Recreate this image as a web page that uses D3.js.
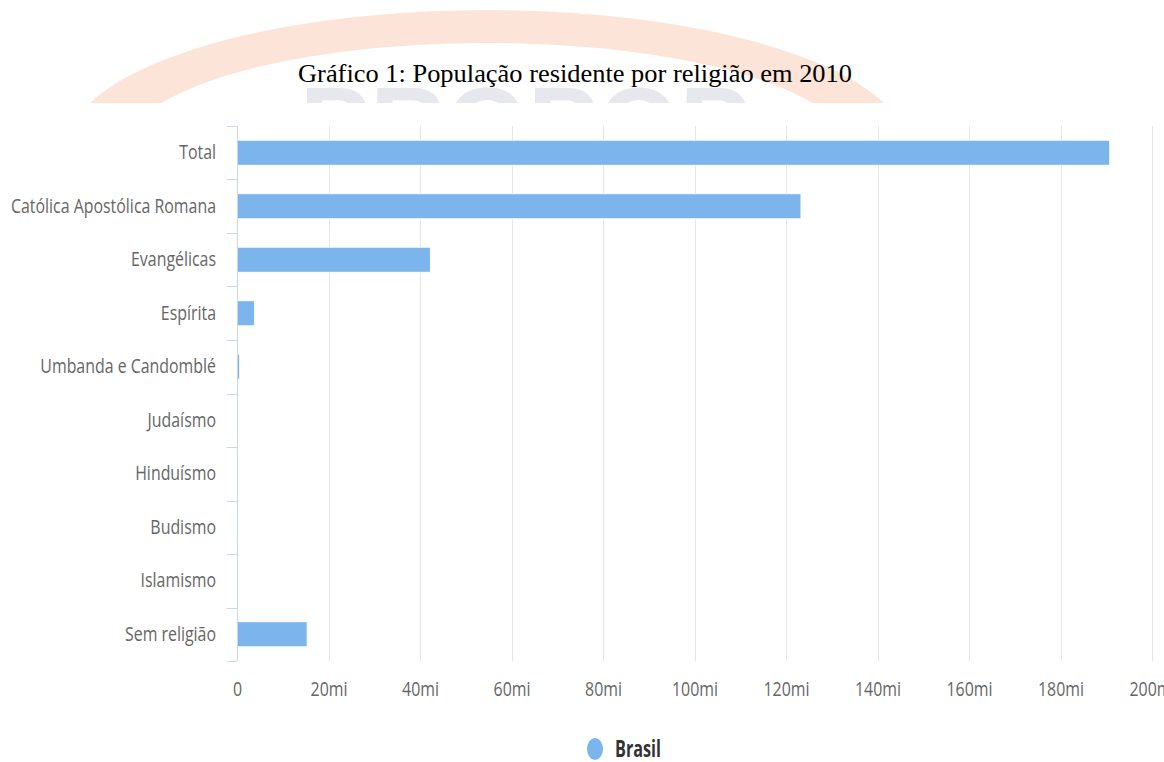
<!DOCTYPE html>
<html>
<head>
<meta charset="utf-8">
<script src="https://cdn.jsdelivr.net/npm/d3@7/dist/d3.min.js"></script>
<style>
  body { margin: 0; background: #fff; }
  svg { display: block; }
</style>
</head>
<body>
<div id="chart"></div>
<script>
// data (milhões de pessoas, Censo 2010)
var categories = ["Total", "Católica Apostólica Romana", "Evangélicas", "Espírita",
  "Umbanda e Candomblé", "Judaísmo", "Hinduísmo", "Budismo", "Islamismo", "Sem religião"];
var values = [190.76, 123.28, 42.28, 3.85, 0.59, 0.11, 0.006, 0.24, 0.035, 15.34];
var xTicks = [0, 20, 40, 60, 80, 100, 120, 140, 160, 180, 200];
var seriesName = "Brasil";
var title = "Gráfico 1: População residente por religião em 2010";

var svgWidth = 1164;
var svgHeight = 762;

var margin = { top: 126, right: 12, bottom: 101, left: 237 };
var width = svgWidth - margin.left - margin.right;
var height = svgHeight - margin.top - margin.bottom;

var svg = d3.select("#chart")
  .append("svg")
  .attr("width", svgWidth)
  .attr("height", svgHeight);

svg.append("rect")
  .attr("width", svgWidth)
  .attr("height", svgHeight)
  .attr("fill", "#fff");

// faint watermark behind the title (cut off above the chart)
svg.append("clipPath").attr("id", "wmClip")
  .append("rect").attr("x", 0).attr("y", 0).attr("width", svgWidth).attr("height", 103);

var wm = svg.append("g").attr("clip-path", "url(#wmClip)");
var cx = 487, cy = 148;
wm.append("path")
  .attr("d", "M" + (cx - 420) + "," + cy +
    " A420,138 0 0 1 " + (cx + 420) + "," + cy +
    " L" + (cx + 360) + "," + cy +
    " A360,105 0 0 0 " + (cx - 360) + "," + cy + " Z")
  .attr("fill", "#fde4d8");
wm.append("text")
  .attr("x", 300)
  .attr("y", 164)
  .attr("textLength", 450)
  .attr("lengthAdjust", "spacingAndGlyphs")
  .style("font-family", "Liberation Sans, Arial, sans-serif")
  .style("font-weight", "bold")
  .style("font-size", "110px")
  .attr("fill", "#e7e7ee")
  .text("PRGPOP");

// title
svg.append("text")
  .attr("x", 298)
  .attr("y", 82)
  .attr("textLength", 554)
  .attr("lengthAdjust", "spacingAndGlyphs")
  .style("font-family", "Liberation Serif, Times New Roman, serif")
  .style("font-size", "25px")
  .attr("fill", "#000")
  .text(title);

var chartGroup = svg.append("g")
  .attr("transform", `translate(${margin.left}, ${margin.top})`);

// scales
var xLinearScale = d3.scaleLinear()
  .domain([0, 200])
  .range([0, width]);

var yBandScale = d3.scaleBand()
  .domain(categories)
  .range([0, height])
  .paddingInner(0.53)
  .paddingOuter(0.265);

// grid lines
chartGroup.append("g")
  .selectAll("line")
  .data(xTicks)
  .enter()
  .append("line")
  .attr("x1", d => Math.round(xLinearScale(d)) + 0.5)
  .attr("x2", d => Math.round(xLinearScale(d)) + 0.5)
  .attr("y1", 0)
  .attr("y2", height)
  .attr("stroke", "#e6e6e6")
  .attr("stroke-width", 1);

// bars
chartGroup.selectAll("rect.bar")
  .data(values)
  .enter()
  .append("rect")
  .attr("class", "bar")
  .attr("x", xLinearScale(0))
  .attr("y", (d, i) => yBandScale(categories[i]))
  .attr("width", d => xLinearScale(d) - xLinearScale(0))
  .attr("height", yBandScale.bandwidth())
  .attr("fill", "#7cb5ec")
  .attr("stroke", "#fff")
  .attr("stroke-width", 1);

// y axis labels
var leftAxis = d3.axisLeft(yBandScale).tickSize(0).tickPadding(21);
var yAxis = chartGroup.append("g").call(leftAxis);
yAxis.select(".domain").remove();
yAxis.selectAll("text")
  .style("font-family", "Open Sans, sans-serif")
  .style("font-size", "20px")
  .attr("fill", "#666");

// squeeze the labels to the narrow look of the original
var widest = 0;
yAxis.selectAll("text").each(function(d) {
  if (d === "Católica Apostólica Romana") widest = this.getComputedTextLength();
});
var k = widest ? 205 / widest : 0.8;

function squeeze(sel, f) {
  sel.each(function() {
    var w = this.getComputedTextLength();
    d3.select(this)
      .attr("textLength", w * f)
      .attr("lengthAdjust", "spacingAndGlyphs");
  });
}
squeeze(yAxis.selectAll("text"), k);

// y axis line and category boundary ticks
var step = yBandScale.step();
var bounds = d3.range(categories.length + 1).map(i => yBandScale(categories[0]) - step * 0.265 + i * step);
chartGroup.append("line")
  .attr("x1", 0.5).attr("x2", 0.5)
  .attr("y1", 0).attr("y2", height)
  .attr("stroke", "#ccd6eb");
chartGroup.append("g")
  .selectAll("line")
  .data(bounds)
  .enter()
  .append("line")
  .attr("x1", -10)
  .attr("x2", 0)
  .attr("y1", d => Math.round(d) + 0.5)
  .attr("y2", d => Math.round(d) + 0.5)
  .attr("stroke", "#ccd6eb");

// x axis labels
var bottomAxis = d3.axisBottom(xLinearScale)
  .tickValues(xTicks)
  .tickFormat(d => d === 0 ? "0" : d + "mi")
  .tickSize(0)
  .tickPadding(21);
var xAxis = chartGroup.append("g")
  .attr("transform", `translate(0, ${height})`)
  .call(bottomAxis);
xAxis.select(".domain").remove();
xAxis.selectAll("text")
  .style("font-family", "Open Sans, sans-serif")
  .style("font-size", "20px")
  .attr("fill", "#666");
squeeze(xAxis.selectAll("text"), k);

// legend
var legend = svg.append("g").attr("transform", "translate(595, 749)");
legend.append("ellipse")
  .attr("cx", 0).attr("cy", 0)
  .attr("rx", 8).attr("ry", 11)
  .attr("fill", "#7cb5ec");
legend.append("text")
  .attr("x", 20)
  .attr("y", 8)
  .attr("textLength", 46)
  .attr("lengthAdjust", "spacingAndGlyphs")
  .style("font-family", "Open Sans, sans-serif")
  .style("font-weight", "bold")
  .style("font-size", "23px")
  .attr("fill", "#333")
  .text(seriesName);
</script>
</body>
</html>
